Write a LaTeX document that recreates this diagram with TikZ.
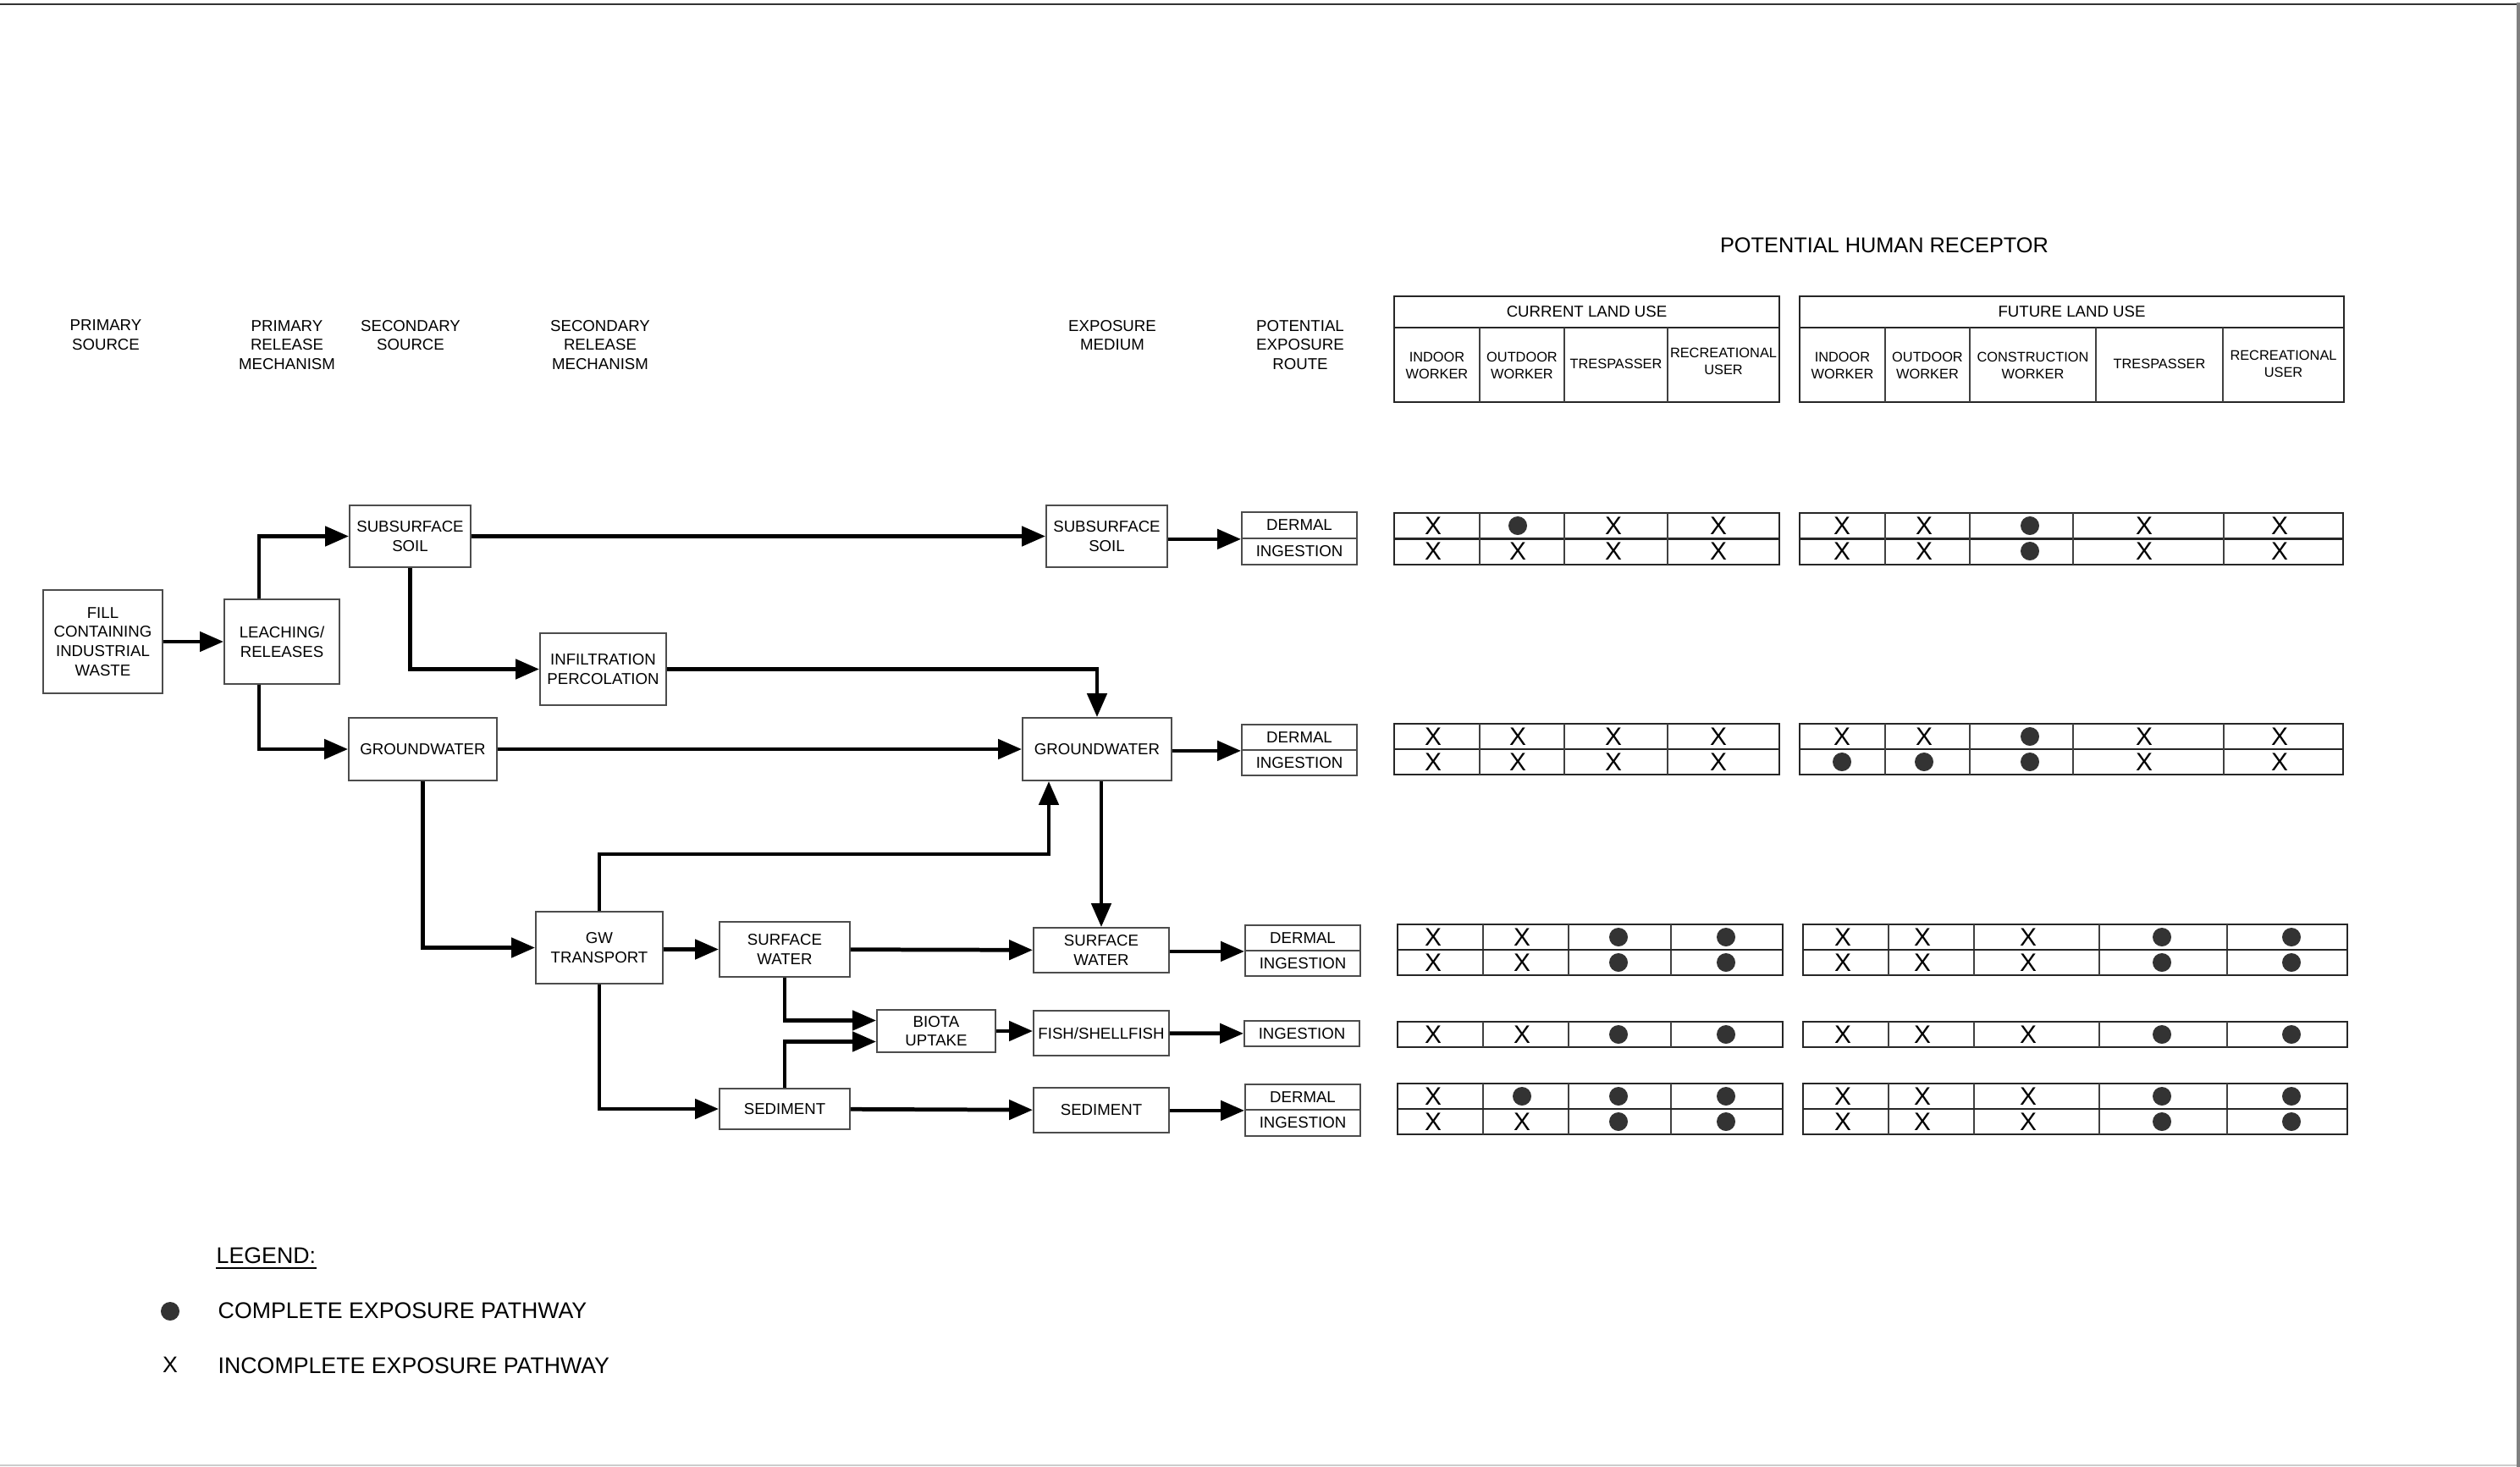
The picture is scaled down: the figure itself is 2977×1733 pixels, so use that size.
\documentclass[tikz,border=0pt]{standalone}
\usepackage{fontspec}
\setmainfont{Liberation Sans}
\usetikzlibrary{arrows.meta,calc}

\newcommand{\boxfont}{\fontsize{5.3}{6.45}\selectfont}
\newcommand{\colfont}{\fontsize{4.65}{5.5}\selectfont}
\newcommand{\headfont}{\fontsize{7.2}{8.5}\selectfont}
\newcommand{\legfont}{\fontsize{7.6}{9}\selectfont}
\newcommand{\crossfont}{\fontsize{8.5}{9}\selectfont}

\tikzset{
  box/.style 2 args={draw=black!70, line width=0.5pt, minimum width=#1, minimum height=#2,
    inner sep=0pt, align=center, font=\boxfont},
  lbl/.style={align=center, font=\boxfont, inner sep=0pt},
  colhd/.style={align=center, font=\colfont, inner sep=0pt},
  flow/.style={line width=1.35pt, -{Triangle[length=0.28cm,width=0.23cm]}},
  tbl/.style={draw=black!85, line width=0.7pt},
  tblv/.style={draw=black!75, line width=0.45pt},
  xmark/.style={font=\crossfont, inner sep=0pt},
  dotfill/.style={fill=black!80},
}

\begin{document}
\begin{tikzpicture}[x=0.01cm,y=-0.01cm]
\useasboundingbox (0,0) rectangle (2977,1733);
% sheet border
\draw[black!80, line width=0.6pt] (0,5) -- (2973,5);
\fill[black!50] (2973,3) rectangle (2977,1733);
\draw[black!20, line width=0.5pt] (0,1731) -- (2973,1731);

% column titles
\node[lbl] (hdsrc) at (125,396) {PRIMARY\\SOURCE};
\node[lbl] (hdrel) at (339,407.5) {PRIMARY\\RELEASE\\MECHANISM};
\node[lbl] (hdsec) at (485,396) {SECONDARY\\SOURCE};
\node[lbl] (hdsrel) at (709,407.5) {SECONDARY\\RELEASE\\MECHANISM};
\node[lbl] (hdmed) at (1314,396) {EXPOSURE\\MEDIUM};
\node[lbl] (hdroute) at (1536,407.5) {POTENTIAL\\EXPOSURE\\ROUTE};
\node[font=\headfont, inner sep=0pt] (hdrec) at (2226,290) {POTENTIAL HUMAN RECEPTOR};

% sources and release mechanisms
\node[box={1.41cm}{1.22cm}] (waste) at (121.5,758) {FILL\\CONTAINING\\INDUSTRIAL\\WASTE};
\node[box={1.36cm}{1.00cm}] (leach) at (333,758) {LEACHING/\\RELEASES};
\node[box={1.43cm}{0.73cm}] (subsoil) at (484.5,633.5) {SUBSURFACE\\SOIL};
\node[box={1.49cm}{0.85cm}] (infil) at (712.5,790.5) {INFILTRATION\\PERCOLATION};
\node[box={1.75cm}{0.74cm}] (gwsrc) at (499.5,885) {GROUNDWATER};
\node[box={1.50cm}{0.85cm}] (gwtrans) at (708,1119.5) {GW\\TRANSPORT};
\node[box={1.54cm}{0.65cm}] (swsrc) at (927,1121.5) {SURFACE\\WATER};
\node[box={1.54cm}{0.48cm}] (sedsrc) at (927,1310) {SEDIMENT};
\node[box={1.40cm}{0.50cm}] (biota) at (1106,1218) {BIOTA\\UPTAKE};

% exposure media
\node[box={1.43cm}{0.73cm}] (exsoil) at (1307.5,633.5) {SUBSURFACE\\SOIL};
\node[box={1.76cm}{0.74cm}] (exgw) at (1296,885) {GROUNDWATER};
\node[box={1.60cm}{0.53cm}] (exsw) at (1301,1122.5) {SURFACE\\WATER};
\node[box={1.60cm}{0.53cm}] (exfish) at (1301,1220.5) {FISH/SHELLFISH};
\node[box={1.60cm}{0.53cm}] (exsed) at (1301,1311.5) {SEDIMENT};

% exposure routes
\node[box={1.36cm}{0.31cm}] (rsoild) at (1535,620.5) {DERMAL};
\node[box={1.36cm}{0.31cm}] (rsoili) at (1535,651.5) {INGESTION};
\node[box={1.36cm}{0.30cm}] (rgwd) at (1535,871) {DERMAL};
\node[box={1.36cm}{0.30cm}] (rgwi) at (1535,901) {INGESTION};
\node[box={1.36cm}{0.30cm}] (rswd) at (1539,1108) {DERMAL};
\node[box={1.36cm}{0.30cm}] (rswi) at (1539,1138) {INGESTION};
\node[box={1.36cm}{0.30cm}] (rfishi) at (1538,1221) {INGESTION};
\node[box={1.36cm}{0.30cm}] (rsedd) at (1539,1296) {DERMAL};
\node[box={1.36cm}{0.31cm}] (rsedi) at (1539,1326.5) {INGESTION};

% pathways
\draw[flow] (waste) -- (leach);
\draw[flow] ($(leach.north)+(-27,0)$) |- (subsoil.west);
\draw[flow] ($(leach.south)+(-27,0)$) |- (gwsrc.west);
\draw[flow] (subsoil) -- (exsoil);
\draw[flow] (subsoil.south) |- (infil.west);
\draw[flow] (infil.east) -| (exgw.north);
\draw[flow] (gwsrc) -- (exgw);
\draw[flow] (gwsrc.south) |- (gwtrans.west);
\draw[flow] (gwtrans.north) -- ++(0,-67) -| ($(exgw.south)+(-57,0)$);
\draw[flow] (exgw.south -| exsw.north) -- (exsw.north);
\draw[flow] (gwtrans.east |- swsrc) -- (swsrc.west);
\draw[flow] (swsrc) -- (exsw);
\draw[flow] (swsrc.south) |- (biota.170);
\draw[flow] (sedsrc.north) |- (biota.190);
\draw[flow] (biota.east) -- (biota.east -| exfish.west);
\draw[flow] (gwtrans.south) |- (sedsrc.west);
\draw[flow] (sedsrc) -- (exsed);
\draw[flow] (exsoil.east |- rsoild.south west) -- (rsoild.south west);
\draw[flow] (exgw.east |- rgwd.south west) -- (rgwd.south west);
\draw[flow] (exsw.east |- rswd.south west) -- (rswd.south west);
\draw[flow] (exfish) -- (rfishi);
\draw[flow] (exsed.east |- rsedd.south west) -- (rsedd.south west);

% receptor heading
\draw[tbl] (1647,350) rectangle (2102,475) (1647,387) -- (2102,387);
\foreach \x in {1748,1848,1970} \draw[tblv] (\x,387) -- (\x,475);
\draw[tbl] (2126,350) rectangle (2769,475) (2126,387) -- (2769,387);
\foreach \x in {2227,2327,2476,2626} \draw[tblv] (\x,387) -- (\x,475);
\node[lbl] (curuse) at (1874.5,368.5) {CURRENT LAND USE};
\node[lbl] (futuse) at (2447.5,368.5) {FUTURE LAND USE};
\node[colhd] (cind) at (1697.5,432) {INDOOR\\WORKER};
\node[colhd] (cout) at (1798,432) {OUTDOOR\\WORKER};
\node[colhd] (ctres) at (1909,430) {TRESPASSER};
\node[colhd] (crec) at (2036,427) {RECREATIONAL\\USER};
\node[colhd] (find) at (2176.5,432) {INDOOR\\WORKER};
\node[colhd] (fout) at (2277,432) {OUTDOOR\\WORKER};
\node[colhd] (fcon) at (2401.5,432) {CONSTRUCTION\\WORKER};
\node[colhd] (ftres) at (2551,430) {TRESPASSER};
\node[colhd] (frec) at (2697.5,430) {RECREATIONAL\\USER};

% result grids
\foreach \ya/\yb in {606/667, 855/915} {
  \draw[tbl] (1647,\ya) rectangle (2102,\yb) (2126,\ya) rectangle (2768,\yb)
    (1647,{(\ya+\yb)/2}) -- (2102,{(\ya+\yb)/2}) (2126,{(\ya+\yb)/2}) -- (2768,{(\ya+\yb)/2});
  \foreach \x in {1748,1848,1970,2227,2327,2449,2627} \draw[tblv] (\x,\ya) -- (\x,\yb);
}
\foreach \ya/\yb in {1092/1152, 1207/1237, 1280/1340} {
  \draw[tbl] (1651,\ya) rectangle (2106,\yb) (2130,\ya) rectangle (2773,\yb);
  \foreach \x in {1752,1853,1974,2231,2332,2480,2631} \draw[tblv] (\x,\ya) -- (\x,\yb);
}
\draw[tbl] (1651,1122) -- (2106,1122) (2130,1122) -- (2773,1122);
\draw[tbl] (1651,1310) -- (2106,1310) (2130,1310) -- (2773,1310);

% o = complete, x = incomplete
\foreach \r/\y/\ms in {1/621/{x,o,x,x,x,x,o,x,x}, 2/651/{x,x,x,x,x,x,o,x,x},
                       3/870/{x,x,x,x,x,x,o,x,x}, 4/900/{x,x,x,x,o,o,o,x,x}} {
  \foreach \m [count=\c] in \ms {
    \pgfmathsetmacro\xx{{1693,1793,1906,2030,2176,2273,2398,2533,2693}[\c-1]}
    \if\m o \fill[dotfill] (\xx,\y) circle (0.11cm);
    \else \node[xmark] (m\r-\c) at (\xx,\y) {X}; \fi
  }
}
\foreach \r/\y/\ms in {5/1107/{x,x,o,o,x,x,x,o,o}, 6/1137/{x,x,o,o,x,x,x,o,o},
                       7/1222/{x,x,o,o,x,x,x,o,o}, 8/1295/{x,o,o,o,x,x,x,o,o},
                       9/1325/{x,x,o,o,x,x,x,o,o}} {
  \foreach \m [count=\c] in \ms {
    \pgfmathsetmacro\xx{{1693,1798,1912,2039,2177,2271,2396,2554,2707}[\c-1]}
    \if\m o \fill[dotfill] (\xx,\y) circle (0.11cm);
    \else \node[xmark] (m\r-\c) at (\xx,\y) {X}; \fi
  }
}

% legend
\node[anchor=base west, font=\legfont, inner sep=0pt] (leghd) at (255,1492) {LEGEND:};
\draw[line width=0.5pt] ($(leghd.base west)+(0,6)$) -- ($(leghd.base east)+(0,6)$);
\fill[dotfill] (201,1549) circle (0.11cm);
\node[anchor=base west, font=\legfont, inner sep=0pt] (legyes) at (257,1557) {COMPLETE EXPOSURE PATHWAY};
\node[font=\legfont, inner sep=0pt] (legx) at (201,1612) {X};
\node[anchor=base west, font=\legfont, inner sep=0pt] (legno) at (257,1622) {INCOMPLETE EXPOSURE PATHWAY};
\end{tikzpicture}
\end{document}
